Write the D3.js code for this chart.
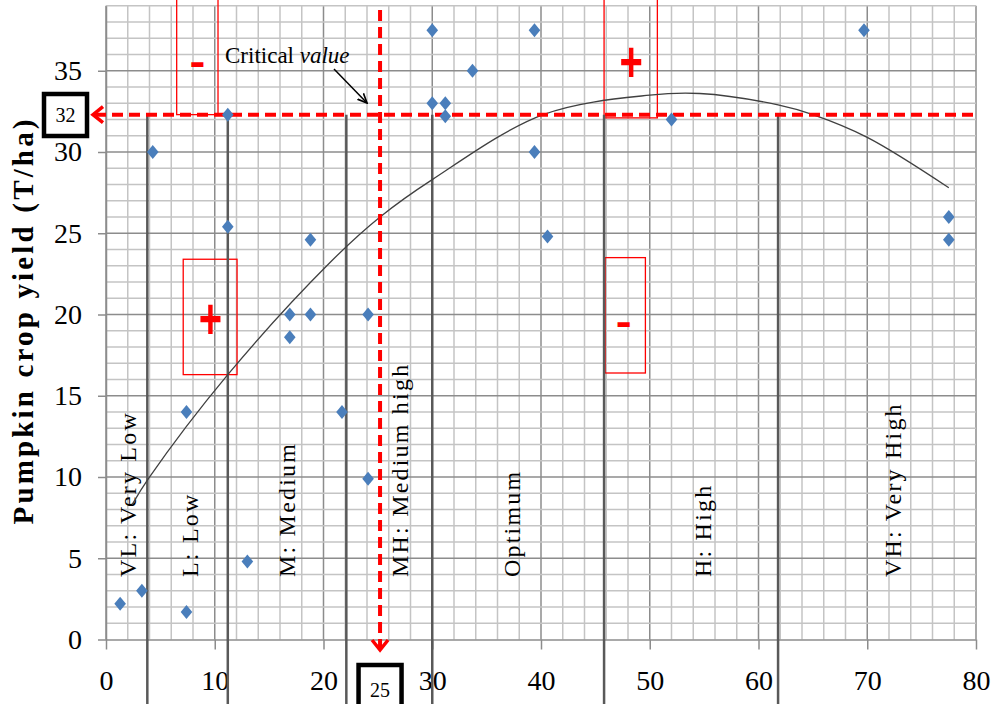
<!DOCTYPE html>
<html>
<head>
<meta charset="utf-8">
<title>Pumpkin crop yield</title>
<style>
  body { margin: 0; background: #fff; }
  text { font-family: "Liberation Serif", "DejaVu Serif", serif; }
</style>
</head>
<body>
<svg width="993" height="704"></svg>
<script src="https://cdn.jsdelivr.net/npm/d3@7"></script>
<script>

// scatter points
var pointX = [1.3, 3.3, 4.3, 7.4, 7.4, 11.2, 11.2, 13.0, 16.9, 16.9, 18.8, 18.8, 21.7, 24.1, 24.1,
              30.0, 30.0, 31.2, 31.2, 33.7, 39.4, 39.4, 40.6, 52.0, 69.7, 77.5, 77.5];
var pointY = [2.2, 3.0, 30.0, 1.7, 14.0, 32.3, 25.4, 4.8, 20.0, 18.6, 24.6, 20.0, 14.0, 20.0, 9.9,
              37.5, 33.0, 33.0, 32.2, 35.0, 37.5, 30.0, 24.8, 32.0, 37.5, 26.0, 24.6];

// trend line, read at points along the drawn curve
var trendX = [2.4, 3.9, 11.2, 20.6, 25.2, 30.0, 40.2, 50.0, 54.6, 61.8, 65.0, 70.0, 77.5];
var trendY = [8.3, 9.9, 16.3, 23.2, 26.0, 28.3, 32.3, 33.5, 33.6, 32.9, 32.3, 30.9, 27.8];

// class boundaries (x) and the class labels between them
var bounds = [3.8, 11.2, 22.1, 30.0, 45.8, 61.8];
var classNames = ["VL: Very Low", "L: Low", "M: Medium", "MH: Medium high", "Optimum", "H: High", "VH: Very High"];
var classPos = [2.0, 7.7, 16.6, 27.0, 37.3, 54.9, 72.4];

// critical value
var critX = 25.2, critY = 32.3;
var critXLabel = "25", critYLabel = "32";

var xTicks = [0, 10, 20, 30, 40, 50, 60, 70, 80];
var yTicks = [0, 5, 10, 15, 20, 25, 30, 35];

var svg = d3.select("svg");

var x = d3.scaleLinear().domain([0, 80]).range([106, 976]);
var y = d3.scaleLinear().domain([0, 39]).range([639.5, 5.75]);

// grid
var grid = svg.append("g");
grid.selectAll(".vminor")
  .data(d3.range(0, 81, 2))
  .enter().append("line")
    .attr("x1", function(d) { return x(d); })
    .attr("x2", function(d) { return x(d); })
    .attr("y1", y(39)).attr("y2", y(0))
    .attr("stroke", function(d) { return d % 10 == 0 ? "#8c8c8c" : "#c4c4c4"; })
    .attr("stroke-width", 1.5);
grid.selectAll(".hminor")
  .data(d3.range(1, 40, 1))
  .enter().append("line")
    .attr("y1", function(d) { return y(d); })
    .attr("y2", function(d) { return y(d); })
    .attr("x1", x(0)).attr("x2", x(80))
    .attr("stroke", function(d) { return d % 5 == 0 ? "#8c8c8c" : "#c4c4c4"; })
    .attr("stroke-width", 1.5);

// axes
var xAxis = svg.append("g")
    .attr("transform", "translate(0," + y(0) + ")")
    .call(d3.axisBottom(x).tickValues(xTicks).tickSize(10).tickSizeOuter(0).tickPadding(21));
var yAxis = svg.append("g")
    .attr("transform", "translate(" + x(0) + ",0)")
    .call(d3.axisLeft(y).tickValues(yTicks).tickSize(8).tickSizeOuter(0).tickPadding(16));
[xAxis, yAxis].forEach(function(a) {
  a.attr("font-family", null).attr("font-size", null);
  a.select(".domain").attr("stroke", "#8c8c8c").attr("stroke-width", 1.5);
  a.selectAll(".tick line").attr("stroke", "#8c8c8c").attr("stroke-width", 1.5);
  a.selectAll(".tick text")
    .attr("fill", "#000")
    .style("font-family", "'Liberation Serif', serif")
    .style("font-size", "28px");
});

svg.append("text")
    .attr("transform", "translate(33," + 322 + ") rotate(-90)")
    .attr("text-anchor", "middle")
    .attr("font-weight", "bold")
    .attr("font-size", 29)
    .attr("textLength", 405)
    .attr("lengthAdjust", "spacing")
    .text("Pumpkin crop yield (T/ha)");

// red annotation boxes
var boxes = [
  {x0: 6.5, x1: 10.3, y0: 32.3, y1: 40},
  {x0: 45.8, x1: 50.7, y0: 32.1, y1: 40},
  {x0: 7.1, x1: 12.05, y0: 16.3, y1: 23.4},
  {x0: 45.9, x1: 49.6, y0: 16.4, y1: 23.5}
];
svg.append("g").selectAll("rect")
  .data(boxes)
  .enter().append("rect")
    .attr("x", function(d) { return x(d.x0); })
    .attr("y", function(d) { return y(d.y1); })
    .attr("width", function(d) { return x(d.x1) - x(d.x0); })
    .attr("height", function(d) { return y(d.y0) - y(d.y1); })
    .attr("fill", "none")
    .attr("stroke", "#ff0000")
    .attr("stroke-width", 1.3);

var signs = [
  {s: "-", x: 8.4, y: 35.6},
  {s: "+", x: 48.3, y: 35.5},
  {s: "+", x: 9.6, y: 19.7},
  {s: "-", x: 47.6, y: 19.6}
];
svg.append("g").selectAll("text")
  .data(signs)
  .enter().append("text")
    .attr("transform", function(d) {
      return "translate(" + x(d.x) + "," + y(d.y) + ") scale(" + (d.s == "+" ? "1,1.45" : "1.4,1.2") + ")";
    })
    .attr("text-anchor", "middle")
    .attr("dy", "0.34em")
    .attr("fill", "#ff0000")
    .attr("font-weight", "bold")
    .style("font-family", "'Liberation Sans', Arial, sans-serif")
    .attr("font-size", function(d) { return d.s == "+" ? 40 : 34; })
    .text(function(d) { return d.s; });

// class boundary lines
svg.append("g").selectAll("line")
  .data(bounds)
  .enter().append("line")
    .attr("x1", function(d) { return x(d); })
    .attr("x2", function(d) { return x(d); })
    .attr("y1", y(critY)).attr("y2", 704)
    .attr("stroke", "#595959")
    .attr("stroke-width", 2.5);

// class labels
svg.append("g").selectAll("text")
  .data(classNames)
  .enter().append("text")
    .attr("transform", function(d, i) { return "translate(" + (x(classPos[i]) + 8) + ",577) rotate(-90)"; })
    .attr("font-size", 24)
    .attr("letter-spacing", 2.2)
    .text(function(d) { return d; });

// trend line
var trend = trendX.map(function(d, i) { return [d, trendY[i]]; });
svg.append("path")
    .datum(trend)
    .attr("fill", "none")
    .attr("stroke", "#404040")
    .attr("stroke-width", 1.3)
    .attr("d", d3.line()
        .x(function(d) { return x(d[0]); })
        .y(function(d) { return y(d[1]); })
        .curve(d3.curveCatmullRom));

// critical value dashed lines
var red = svg.append("g");
red.append("line")
    .attr("x1", 95).attr("x2", 978)
    .attr("y1", y(critY)).attr("y2", y(critY))
    .attr("stroke", "#ff0000").attr("stroke-width", 4)
    .attr("stroke-dasharray", "11,6");
red.append("line")
    .attr("x1", x(critX)).attr("x2", x(critX))
    .attr("y1", 10).attr("y2", 648)
    .attr("stroke", "#ff0000").attr("stroke-width", 4)
    .attr("stroke-dasharray", "11,6");
red.append("path")
    .attr("d", "M" + (93 + 10) + "," + (y(critY) - 8) + "L93," + y(critY) + "L" + (93 + 10) + "," + (y(critY) + 8))
    .attr("fill", "none").attr("stroke", "#ff0000").attr("stroke-width", 3.5);
red.append("path")
    .attr("d", "M" + (x(critX) - 8) + ",640L" + x(critX) + ",650L" + (x(critX) + 8) + ",640")
    .attr("fill", "none").attr("stroke", "#ff0000").attr("stroke-width", 3.5);

// boxes with critical values
svg.append("rect")
    .attr("x", 44).attr("y", 94).attr("width", 43).attr("height", 42)
    .attr("fill", "#fff").attr("stroke", "#000").attr("stroke-width", 4.5);
svg.append("text")
    .attr("x", 65.5).attr("y", 115).attr("dy", "0.35em")
    .attr("text-anchor", "middle").attr("font-size", 20)
    .text(critYLabel);
svg.append("rect")
    .attr("x", x(critX) - 21.5).attr("y", 665).attr("width", 43).attr("height", 50)
    .attr("fill", "#fff").attr("stroke", "#000").attr("stroke-width", 4.5);
svg.append("text")
    .attr("x", x(critX)).attr("y", 690).attr("dy", "0.35em")
    .attr("text-anchor", "middle").attr("font-size", 20)
    .text(critXLabel);

// "Critical value" note with arrow
var note = svg.append("text")
    .attr("x", 225).attr("y", 63)
    .attr("font-size", 23);
note.append("tspan").text("Critical ");
note.append("tspan").attr("font-style", "italic").text("value");
svg.append("defs").append("marker")
    .attr("id", "arrow")
    .attr("viewBox", "0 0 10 10")
    .attr("refX", 9).attr("refY", 5)
    .attr("markerWidth", 7).attr("markerHeight", 7)
    .attr("orient", "auto")
  .append("path")
    .attr("d", "M0,1L9,5L0,9")
    .attr("fill", "none").attr("stroke", "#000").attr("stroke-width", 1.6);
svg.append("line")
    .attr("x1", 334).attr("y1", 69).attr("x2", 367).attr("y2", 103)
    .attr("stroke", "#000").attr("stroke-width", 1.5)
    .attr("marker-end", "url(#arrow)");

// points
svg.append("g").selectAll("path")
  .data(pointX)
  .enter().append("path")
    .attr("transform", function(d, i) { return "translate(" + x(d) + "," + y(pointY[i]) + ")"; })
    .attr("d", "M0,-7L5.8,0L0,7L-5.8,0Z")
    .attr("fill", "#4a7ebb");

</script>
</body>
</html>
